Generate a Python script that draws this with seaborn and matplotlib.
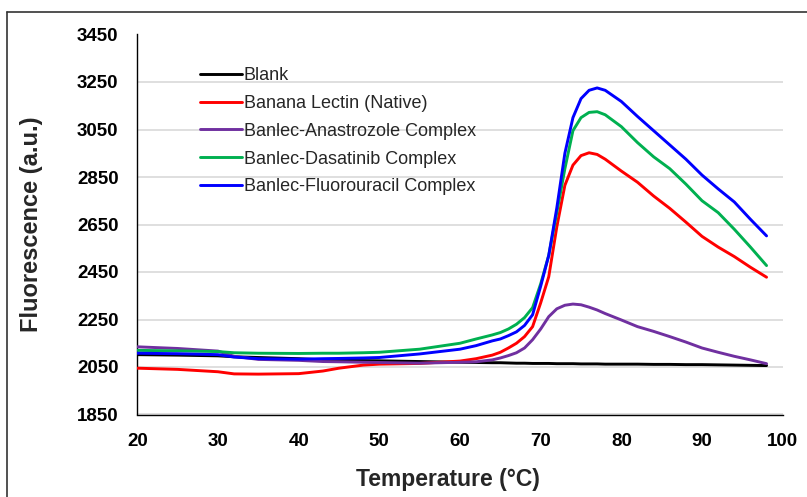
import matplotlib
matplotlib.use("Agg")
import matplotlib.pyplot as plt
from matplotlib.lines import Line2D
import seaborn as sns
import pandas as pd

temperature = [20, 25, 30, 32, 35, 40, 43, 45, 48, 50, 55, 60, 62, 64, 65, 66, 67, 68, 69,
               70, 71, 72, 73, 74, 75, 76, 77, 78, 80, 82, 84, 86, 88, 90, 92, 94, 96, 98]

blank = [2102, 2100, 2097, 2093, 2090, 2085, 2080, 2078, 2077, 2076, 2073, 2070, 2069, 2068, 2068,
         2067, 2066, 2066, 2065, 2065, 2065, 2064, 2064, 2064, 2063, 2063, 2063, 2062, 2062, 2062,
         2061, 2061, 2060, 2060, 2059, 2058, 2057, 2056]
native = [2045, 2040, 2030, 2021, 2020, 2022, 2033, 2045, 2058, 2062, 2065, 2075, 2085, 2100, 2112,
          2130, 2150, 2178, 2220, 2320, 2430, 2640, 2815, 2900, 2940, 2952, 2945, 2925, 2875, 2828,
          2770, 2718, 2660, 2600, 2555, 2515, 2470, 2428]
anastrozole = [2135, 2128, 2117, 2095, 2082, 2078, 2073, 2072, 2070, 2069, 2066, 2070, 2072, 2080,
               2088, 2098, 2110, 2130, 2165, 2210, 2262, 2295, 2310, 2315, 2312, 2302, 2290, 2275,
               2248, 2220, 2200, 2178, 2155, 2130, 2112, 2095, 2080, 2064]
dasatinib = [2120, 2118, 2115, 2110, 2108, 2107, 2108, 2108, 2110, 2112, 2125, 2150, 2168, 2185,
             2195, 2210, 2230, 2258, 2300, 2400, 2520, 2700, 2885, 3045, 3100, 3122, 3125, 3112,
             3062, 2995, 2935, 2885, 2820, 2750, 2700, 2630, 2555, 2477]
fluorouracil = [2108, 2106, 2102, 2092, 2085, 2083, 2085, 2086, 2088, 2090, 2105, 2125, 2140, 2160,
                2168, 2182, 2198, 2225, 2270, 2390, 2520, 2720, 2950, 3100, 3180, 3215, 3225, 3215,
                3168, 3105, 3045, 2985, 2925, 2858, 2800, 2745, 2672, 2602]

series_names = ["Blank", "Banana Lectin (Native)", "Banlec-Anastrozole Complex",
                "Banlec-Dasatinib Complex", "Banlec-Fluorouracil Complex"]
series_values = [blank, native, anastrozole, dasatinib, fluorouracil]
colors = ["#000000", "#FF0000", "#7030A0", "#00B050", "#0000FF"]

x_ticks = [20, 30, 40, 50, 60, 70, 80, 90, 100]
y_ticks = [1850, 2050, 2250, 2450, 2650, 2850, 3050, 3250, 3450]

rows = []
for name, vals in zip(series_names, series_values):
    for t, v in zip(temperature, vals):
        rows.append({"Temperature": t, "Fluorescence": v, "Series": name})
df = pd.DataFrame(rows)

sns.set_style("white")
plt.rcParams["font.family"] = ["Liberation Sans", "DejaVu Sans"]

fig = plt.figure(figsize=(8.07, 4.97), dpi=100)
ax = fig.add_axes([137.3 / 807, 1 - 414.5 / 497, (782.7 - 137.3) / 807, (414.5 - 34.5) / 497])

sns.lineplot(data=df, x="Temperature", y="Fluorescence", hue="Series",
             hue_order=series_names, palette=colors, linewidth=2.1, ax=ax,
             legend=False, zorder=3)

ax.set_xlim(20, 100)
ax.set_ylim(1850, 3450)
ax.set_xticks(x_ticks)
ax.set_yticks(y_ticks)
ax.set_xticklabels([str(v) for v in x_ticks])
ax.set_yticklabels([str(v) for v in y_ticks])
ax.yaxis.grid(True, color="#D9D9D9", linewidth=1.2, zorder=0)
ax.xaxis.grid(False)
ax.set_axisbelow(True)

for s in ["top", "right"]:
    ax.spines[s].set_visible(False)
for s in ["left", "bottom"]:
    ax.spines[s].set_color("black")
    ax.spines[s].set_linewidth(1.0)

ax.tick_params(axis="both", which="major", direction="out", length=4.5, width=1.0,
               color="black", labelsize=13.5, labelcolor="black")
ax.tick_params(axis="y", pad=9)
ax.tick_params(axis="x", pad=9)
for lab in ax.get_xticklabels() + ax.get_yticklabels():
    lab.set_fontweight("bold")

ax.set_xlabel("Temperature (°C)", fontsize=16.5, fontweight="bold")
ax.set_ylabel("Fluorescence (a.u.)", fontsize=17, fontweight="bold")
ax.xaxis.set_label_coords((448 - 137.3) / (782.7 - 137.3), -(468 - 414.5) / (414.5 - 34.5))
ax.xaxis.label.set_va("top")
ax.yaxis.set_label_coords(-(137.3 - 32) / (782.7 - 137.3), 0.5)
ax.yaxis.label.set_va("center")

handles = [Line2D([0], [0], color=c, linewidth=2.1) for c in colors]
fig.legend(handles, series_names, loc="upper left",
           bbox_to_anchor=(200 / 807, 1 - 67 / 497), frameon=False,
           fontsize=13, handlelength=2.3, handletextpad=0.12, labelspacing=0.6,
           borderpad=0, borderaxespad=0)

# outer chart frame (top and left edges visible)
fig.add_artist(Line2D([7 / 807, 1.0], [1 - 12 / 497, 1 - 12 / 497], color="#333333",
                      linewidth=1.2, transform=fig.transFigure))
fig.add_artist(Line2D([7 / 807, 7 / 807], [0.0, 1 - 12 / 497], color="#333333",
                      linewidth=1.2, transform=fig.transFigure))

fig.savefig("out.png", dpi=100)
